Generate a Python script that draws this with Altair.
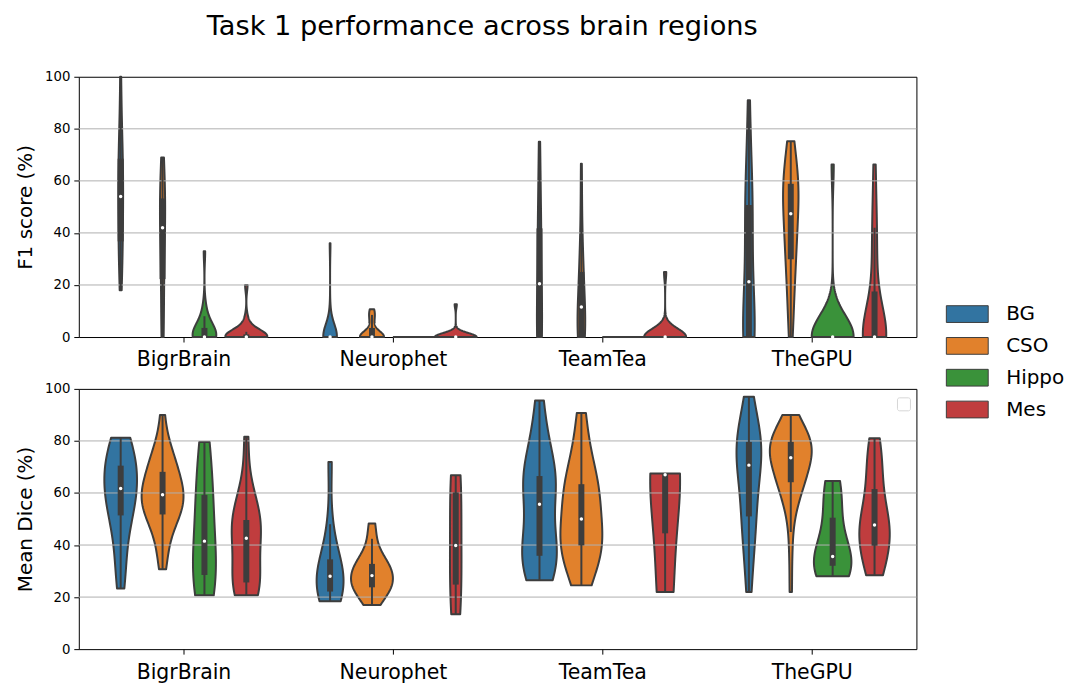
import json
import altair as alt
import pandas as pd

# ---------------- categories and style constants ----------------
TEAMS = ["BigrBrain", "Neurophet", "TeamTea", "TheGPU"]
REGIONS = ["BG", "CSO", "Hippo", "Mes"]
COLORS = ["#3274a1", "#e1812c", "#3a923a", "#c03d3e"]
Y_TICKS = [0, 20, 40, 60, 80, 100]
GRID_LINES = [20, 40, 60, 80]
TITLE = "Task 1 performance across brain regions"

# ---------------- F1 score (%) per team / region ----------------
F1_BIGRBRAIN_BG = [18, 24, 29, 33, 36, 37, 42, 47, 51, 53, 55, 58, 61, 65, 68, 70, 74, 79, 87, 100]
F1_BIGRBRAIN_CSO = [0, 0, 5, 12, 20, 23, 28, 33, 37, 40, 44, 47, 49, 51, 53, 54, 58, 62, 66, 69]
F1_BIGRBRAIN_HIPPO = [0, 0, 0, 0, 0, 0, 0, 0, 0, 0, 0, 0, 1, 2, 3, 5, 6, 8, 12, 33]
F1_BIGRBRAIN_MES = [0, 0, 0, 0, 0, 0, 0, 0, 0, 0, 0, 0, 0, 0, 1, 1, 2, 4, 7, 20]
F1_NEUROPHET_BG = [0, 0, 0, 0, 0, 0, 0, 0, 0, 0, 0, 0, 0, 0, 0, 0, 2, 4, 8, 36]
F1_NEUROPHET_CSO = [0, 0, 0, 0, 0, 0, 0, 0, 0, 0, 0, 0, 0, 1, 3, 5, 7, 8.5, 9.5, 10.7]
F1_NEUROPHET_HIPPO = [0, 0, 0, 0, 0, 0, 0, 0, 0, 0, 0, 0, 0, 0, 0, 0, 0, 0, 0, 0]
F1_NEUROPHET_MES = [0, 0, 0, 0, 0, 0, 0, 0, 0, 0, 0, 0, 0, 0, 0, 0, 0, 0, 0, 12.6]
F1_TEAMTEA_BG = [0, 0, 0, 0, 0, 0.5, 5, 10, 15, 19, 22, 27, 32, 37, 41, 44, 50, 58, 66, 75]
F1_TEAMTEA_CSO = [0, 0, 0, 0, 0, 0, 2, 5, 8, 11, 12, 15, 18, 22, 24, 28, 33, 40, 52, 66.6]
F1_TEAMTEA_HIPPO = [0, 0, 0, 0, 0, 0, 0, 0, 0, 0, 0, 0, 0, 0, 0, 0, 0, 0, 0, 0]
F1_TEAMTEA_MES = [0, 0, 0, 0, 0, 0, 0, 0, 0, 0, 0, 0, 0, 0, 0, 0, 0, 0, 3, 25]
F1_THEGPU_BG = [0, 0, 0, 0, 0, 0, 0, 0, 8, 18, 24.4, 30, 37, 44, 50, 53, 57, 62, 74, 91]
F1_THEGPU_CSO = [0, 8, 15, 22, 28, 30.5, 34, 38, 42, 46, 48.8, 52, 55, 57, 58.5, 60, 62, 65, 70, 75.2]
F1_THEGPU_HIPPO = [0, 0, 0, 0, 0, 0, 0, 0, 0, 0, 0, 0, 0, 0, 0, 0, 0, 0, 5, 66.3]
F1_THEGPU_MES = [0, 0, 0, 0, 0, 0, 0, 0, 0, 0, 0, 0, 0, 6, 15, 25, 33, 42, 50, 66.3]

# ---------------- Mean Dice (%) per team / region ----------------
DICE_BIGRBRAIN_BG = [23.3, 31, 38, 45, 51, 52.5, 55, 58, 60.5, 63, 65, 67, 69, 71, 74, 77, 80, 81.2]
DICE_BIGRBRAIN_CSO = [30.7, 35, 40, 44, 47, 49, 50.5, 51.5, 52.5, 54, 55, 56, 57, 58, 59,
                      59.6, 60.5, 61.5, 62.5, 64, 65.5, 67, 68.5, 70, 71.5, 73, 75, 77.5, 81, 90]
DICE_BIGRBRAIN_HIPPO = [20.7, 24, 30, 36, 47, 57, 66, 79.6]
DICE_BIGRBRAIN_MES = [20.7, 21, 22.5, 24, 25, 27.5, 31, 36, 40, 45.2, 46, 47.5, 48.5, 50, 53, 57, 63, 81.6]
DICE_NEUROPHET_BG = [18.4, 19.5, 21, 22.5, 25, 27, 29, 31, 34, 36, 48, 71.9]
DICE_NEUROPHET_CSO = [17, 19.5, 21.5, 22.5, 23.5, 24.5, 25.5, 26.5, 27.5, 29, 30, 31, 32, 33, 35, 37, 42.4, 48.3]
DICE_NEUROPHET_HIPPO = []
DICE_NEUROPHET_MES = [13.4, 24.8, 39.8, 60.2, 66.8]
DICE_TEAMTEA_BG = [26.5, 29, 32, 34, 35.5, 37, 39, 43, 51, 60.4, 62, 63.5, 65, 67, 70, 76, 84, 95.5]
DICE_TEAMTEA_CSO = [24.5, 29, 33, 36.5, 39.5, 41, 42.5, 44, 46, 54, 56, 58.5, 61.5, 64, 67, 72, 80, 90.7]
DICE_TEAMTEA_HIPPO = []
DICE_TEAMTEA_MES = [22, 67, 67.5]
DICE_THEGPU_BG = [22, 33, 41, 47, 50, 54, 60, 66, 69.5, 71.9, 74.5, 76.5, 78.5, 80, 81.5, 84, 89, 97]
DICE_THEGPU_CSO = [22, 35, 45, 51, 55, 57.5, 59.5, 61, 62, 63, 64.5, 65.5, 66.5, 67.5, 68.5, 69.5, 70.5,
                   71.5, 72.5, 73.2, 73.8, 74.5, 75.2, 76, 76.7, 77.3, 77.9, 78.5, 79, 79.5, 80, 80.7,
                   81.5, 82.3, 83.2, 84, 85, 86.3, 88, 90]
DICE_THEGPU_HIPPO = [28, 30, 32.7, 35, 36.2, 48, 58, 64.6]
DICE_THEGPU_MES = [28.4, 30, 33, 36, 39, 42, 44, 45.5, 47, 48.4, 50, 53, 60, 62, 68, 73, 77, 81]

F1 = {
    "BigrBrain": [F1_BIGRBRAIN_BG, F1_BIGRBRAIN_CSO, F1_BIGRBRAIN_HIPPO, F1_BIGRBRAIN_MES],
    "Neurophet": [F1_NEUROPHET_BG, F1_NEUROPHET_CSO, F1_NEUROPHET_HIPPO, F1_NEUROPHET_MES],
    "TeamTea": [F1_TEAMTEA_BG, F1_TEAMTEA_CSO, F1_TEAMTEA_HIPPO, F1_TEAMTEA_MES],
    "TheGPU": [F1_THEGPU_BG, F1_THEGPU_CSO, F1_THEGPU_HIPPO, F1_THEGPU_MES],
}
DICE = {
    "BigrBrain": [DICE_BIGRBRAIN_BG, DICE_BIGRBRAIN_CSO, DICE_BIGRBRAIN_HIPPO, DICE_BIGRBRAIN_MES],
    "Neurophet": [DICE_NEUROPHET_BG, DICE_NEUROPHET_CSO, DICE_NEUROPHET_HIPPO, DICE_NEUROPHET_MES],
    "TeamTea": [DICE_TEAMTEA_BG, DICE_TEAMTEA_CSO, DICE_TEAMTEA_HIPPO, DICE_TEAMTEA_MES],
    "TheGPU": [DICE_THEGPU_BG, DICE_THEGPU_CSO, DICE_THEGPU_HIPPO, DICE_THEGPU_MES],
}

FONT = "DejaVu Sans"
GRAY = "#3d3d3d"
GROUP_WIDTH = 0.8
HUE_STEP = GROUP_WIDTH / len(REGIONS)
HALF_MAX = HUE_STEP / 2
PLOT_W, PLOT_H = 840, 261
G = ["team", "region"]


def to_frame(table):
    rows = []
    for team in TEAMS:
        for region, values in zip(REGIONS, table[team]):
            for v in values:
                rows.append({"team": team, "region": region, "value": float(v)})
    return pd.DataFrame(rows)


POS_EXPR = (
    f"indexof({json.dumps(TEAMS)}, datum.team) + "
    f"(indexof({json.dumps(REGIONS)}, datum.region) - {(len(REGIONS) - 1) / 2}) * {HUE_STEP}"
)
LABEL_EXPR = f"{json.dumps(TEAMS)}[datum.value]"


def panel(df, ytitle, with_legend, legend_box=False):
    xs = alt.Scale(domain=[-0.5, len(TEAMS) - 0.5], nice=False, zero=False)
    ys = alt.Scale(domain=[Y_TICKS[0], Y_TICKS[-1]], nice=False, zero=False)
    xaxis = alt.Axis(values=list(range(len(TEAMS))), labelExpr=LABEL_EXPR, title=None,
                     labelFontSize=20.5, tickSize=5, labelPadding=8, grid=False, domain=False)
    yaxis = alt.Axis(values=Y_TICKS, title=ytitle, titleFontSize=20, labelFontSize=13.3,
                     tickSize=5, labelPadding=4, titlePadding=9, grid=False, domain=False)

    def X(f):
        return alt.X(f, scale=xs, axis=xaxis, stack=None)

    def Y(f):
        return alt.Y(f, scale=ys, axis=yaxis)

    base = alt.Chart(df)

    if with_legend:
        legend = alt.Legend(title=None, orient="none", legendX=881, legendY=228,
                            symbolType="M-2.5,-1H2.5V1H-2.5Z", symbolSize=282,
                            symbolStrokeColor=GRAY, symbolStrokeWidth=1, symbolOpacity=1,
                            labelFontSize=20, labelColor="#000000", labelOffset=29,
                            rowPadding=9.9)
    else:
        legend = None
    color = alt.Color("region:N", scale=alt.Scale(domain=REGIONS, range=COLORS), legend=legend)

    # Kernel density per team/region (Scott bandwidth, cut at data range)
    violins = (
        base.transform_joinaggregate(n="count()", sd="stdev(value)", vmin="min(value)",
                                     vmax="max(value)", groupby=G)
        .transform_filter("datum.vmax > datum.vmin")
        .transform_calculate(bw="datum.sd * pow(datum.n, -0.2)")
        .transform_calculate(grid="sequence(0, 101)")
        .transform_flatten(["grid"])
        .transform_calculate(y="datum.vmin + (datum.vmax - datum.vmin) * datum.grid / 100")
        .transform_calculate(k="exp(-0.5 * pow((datum.y - datum.value) / datum.bw, 2)) / (datum.bw * sqrt(2 * PI) * datum.n)")
        .transform_aggregate(density="sum(k)", groupby=G + ["grid", "y"])
        .transform_joinaggregate(maxd="max(density)", groupby=["team"])
        .transform_calculate(pos=POS_EXPR)
        .transform_calculate(half=f"{HALF_MAX} * datum.density / datum.maxd")
        .transform_calculate(lo="datum.pos - datum.half", hi="datum.pos + datum.half")
        .mark_area(orient="horizontal", stroke=GRAY, strokeWidth=2, opacity=1, strokeJoin="round")
        .encode(y=Y("y:Q"), x=X("lo:Q"), x2="hi:Q", color=color, detail="team:N")
    )

    # single-valued groups are drawn as a flat line
    flat = (
        base.transform_aggregate(vmin="min(value)", vmax="max(value)", groupby=G)
        .transform_filter("datum.vmax == datum.vmin")
        .transform_calculate(pos=POS_EXPR)
        .transform_calculate(lo=f"datum.pos - {HALF_MAX}", hi=f"datum.pos + {HALF_MAX}")
        .mark_rule(color=GRAY, strokeWidth=2)
        .encode(y=Y("vmin:Q"), x=X("lo:Q"), x2="hi:Q")
    )

    grid = (
        alt.Chart(pd.DataFrame({"g": GRID_LINES}))
        .mark_rule(color="#b0b0b0", strokeWidth=1)
        .encode(y=Y("g:Q"))
    )

    stats = (
        base.transform_joinaggregate(q1="q1(value)", q3="q3(value)", med="median(value)",
                                     vmin="min(value)", vmax="max(value)", groupby=G)
        .transform_filter("datum.vmax > datum.vmin")
        .transform_calculate(iqr="datum.q3 - datum.q1")
        .transform_calculate(inlo="datum.value >= datum.q1 - 1.5 * datum.iqr ? datum.value : null")
        .transform_calculate(inhi="datum.value <= datum.q3 + 1.5 * datum.iqr ? datum.value : null")
        .transform_aggregate(h1="min(inlo)", h2="max(inhi)", bq1="min(q1)", bq3="min(q3)",
                             bmed="min(med)", groupby=G)
        .transform_calculate(pos=POS_EXPR)
    )
    whisk = stats.mark_rule(color=GRAY, strokeWidth=2).encode(x=X("pos:Q"), y=Y("h1:Q"), y2="h2:Q")
    box = stats.mark_rule(color=GRAY, strokeWidth=6).encode(x=X("pos:Q"), y=Y("bq1:Q"), y2="bq3:Q")
    med = stats.mark_circle(color="white", opacity=1, size=12).encode(x=X("pos:Q"), y=Y("bmed:Q"))

    layers = [violins, flat, grid, whisk, box, med]
    if legend_box:
        empty = (
            alt.Chart(pd.DataFrame({"a": [0]}))
            .mark_rect(fill="white", stroke="#d6d6d6", strokeWidth=1, cornerRadius=2)
            .encode(x=alt.value(PLOT_W - 19), x2=alt.value(PLOT_W - 6),
                    y=alt.value(9), y2=alt.value(22))
        )
        layers.append(empty)
    return alt.layer(*layers).properties(width=PLOT_W, height=PLOT_H)


top = panel(to_frame(F1), "F1 score (%)", True)
bottom = panel(to_frame(DICE), "Mean Dice (%)", False, legend_box=True)

chart = (
    alt.vconcat(top, bottom, spacing=10,
                title=alt.Title(TITLE, fontSize=27.3, fontWeight="normal", color="#000000",
                                anchor="middle", offset=29.5, dx=-58))
    .properties(padding={"left": 7, "top": 3, "right": 0, "bottom": 0})
    .configure_view(stroke="#000000", strokeWidth=1)
    .configure_axis(labelFont=FONT, titleFont=FONT, labelColor="#000000", titleColor="#000000",
                    tickColor="#000000", tickWidth=1, titleFontWeight="normal")
    .configure_legend(labelFont=FONT)
    .configure_title(font=FONT)
)

chart.save("out.html", embed_options={"renderer": "svg", "actions": False})
